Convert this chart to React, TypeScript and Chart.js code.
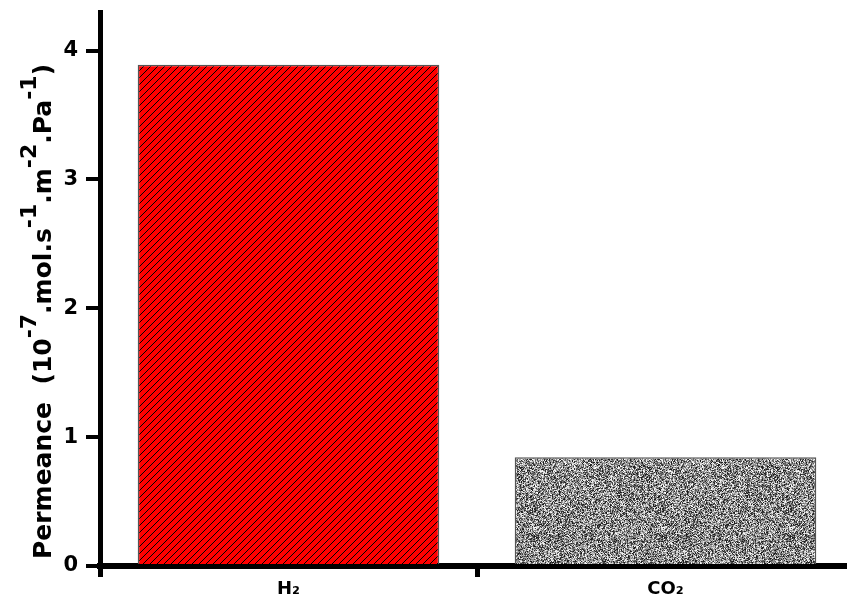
import React, { useEffect, useRef } from "react";
import { Chart, registerables } from "chart.js";

Chart.register(...registerables);

const categories = ["H\u2082", "CO\u2082"];
const permeance = [3.89, 0.845];
const yTicks = [0, 1, 2, 3, 4];
const yMax = 4.3;
const titleParts: { t: string; sup: boolean }[] = [
  { t: "Permeance  (10", sup: false },
  { t: "-7", sup: true },
  { t: ".mol.s", sup: false },
  { t: "-1", sup: true },
  { t: ".m", sup: false },
  { t: "-2", sup: true },
  { t: ".Pa", sup: false },
  { t: "-1", sup: true },
  { t: ")", sup: false },
];

function makeHatch(ctx: CanvasRenderingContext2D): CanvasPattern | string {
  const p = 7;
  const c = document.createElement("canvas");
  c.width = p;
  c.height = p;
  const g = c.getContext("2d")!;
  g.fillStyle = "#ff0000";
  g.fillRect(0, 0, p, p);
  g.strokeStyle = "#000000";
  g.lineWidth = 1.0;
  g.beginPath();
  g.moveTo(-1, p + 1);
  g.lineTo(p + 1, -1);
  g.moveTo(-2, 2);
  g.lineTo(2, -2);
  g.moveTo(p - 2, p + 2);
  g.lineTo(p + 2, p - 2);
  g.stroke();
  return ctx.createPattern(c, "repeat") || "#ff0000";
}

function makeNoise(ctx: CanvasRenderingContext2D): CanvasPattern | string {
  const n = 128;
  const c = document.createElement("canvas");
  c.width = n;
  c.height = n;
  const g = c.getContext("2d")!;
  const img = g.createImageData(n, n);
  let a = 987654321;
  const next = () => {
    a |= 0;
    a = (a + 0x6d2b79f5) | 0;
    let t = Math.imul(a ^ (a >>> 15), 1 | a);
    t = (t + Math.imul(t ^ (t >>> 7), 61 | t)) ^ t;
    return ((t ^ (t >>> 14)) >>> 0) / 4294967296;
  };
  for (let i = 0; i < n * n; i++) {
    const r = next();
    let v: number;
    if (r < 0.22) v = 20 + next() * 50;
    else if (r < 0.45) v = 200 + next() * 55;
    else v = 80 + next() * 115;
    img.data[i * 4] = v;
    img.data[i * 4 + 1] = v;
    img.data[i * 4 + 2] = v;
    img.data[i * 4 + 3] = 255;
  }
  g.putImageData(img, 0, 0);
  return ctx.createPattern(c, "repeat") || "#888888";
}

const titlePlugin = {
  id: "yTitleSup",
  afterDraw(chart: any) {
    const ctx: CanvasRenderingContext2D = chart.ctx;
    ctx.save();
    const mainFont = "bold 25px 'DejaVu Sans'";
    const supFont = "bold 22px 'DejaVu Sans'";
    ctx.translate(51, 559);
    ctx.rotate(-Math.PI / 2);
    ctx.fillStyle = "#000";
    ctx.textBaseline = "alphabetic";
    ctx.textAlign = "left";
    let x = 0;
    for (const p of titleParts) {
      ctx.font = p.sup ? supFont : mainFont;
      ctx.fillText(p.t, x, p.sup ? -15 : 0);
      x += ctx.measureText(p.t).width;
    }
    ctx.restore();
  },
};

export default function App() {
  const ref = useRef<HTMLCanvasElement | null>(null);
  useEffect(() => {
    const canvas = ref.current!;
    const ctx = canvas.getContext("2d")!;
    const hatch = makeHatch(ctx);
    const noise = makeNoise(ctx);
    const chart = new Chart(canvas, {
      type: "bar",
      data: {
        labels: categories,
        datasets: [
          {
            data: permeance,
            backgroundColor: [hatch as any, noise as any],
            borderColor: ["#555555", "#555555"],
            borderWidth: 1.5,
            barPercentage: 0.8,
            categoryPercentage: 1,
          },
        ],
      },
      options: {
        responsive: false,
        animation: false,
        layout: { padding: { left: 0, right: 8, top: 12, bottom: 0 } },
        plugins: { legend: { display: false }, tooltip: { enabled: false }, title: { display: false } },
        scales: {
          x: {
            type: "category",
            offset: true,
            border: { display: true, color: "#000", width: 6 },
            grid: {
              display: true,
              offset: true,
              drawOnChartArea: false,
              drawTicks: true,
              tickLength: 11,
              lineWidth: 5,
              color: "#000",
            },
            ticks: {
              color: "#000",
              font: { family: "'DejaVu Sans'", size: 18, weight: "bold" },
              padding: 2,
            },
            afterFit: (scale: any) => {
              scale.height = 40;
              scale.paddingLeft = 0;
              scale.paddingRight = 0;
            },
          },
          y: {
            type: "linear",
            min: 0,
            max: yMax,
            border: { display: true, color: "#000", width: 5 },
            grid: {
              display: true,
              drawOnChartArea: false,
              drawTicks: true,
              tickLength: 14,
              lineWidth: 4,
              color: "#000",
            },
            afterBuildTicks: (scale: any) => {
              scale.ticks = yTicks.map((v) => ({ value: v }));
            },
            ticks: {
              includeBounds: false,
              stepSize: 1,
              color: "#000",
              font: { family: "'DejaVu Sans'", size: 21, weight: "bold" },
              padding: 8,
            },
            afterFit: (scale: any) => {
              scale.width = 100;
              scale.paddingTop = 0;
              scale.paddingBottom = 0;
            },
          },
        },
      },
      plugins: [titlePlugin],
    });
    return () => chart.destroy();
  }, []);
  return (
    <div
      style={{
        position: "fixed",
        left: 0,
        top: 0,
        width: 847,
        height: 606,
        overflow: "hidden",
        background: "#fff",
      }}
    >
      <canvas ref={ref} width={862} height={606} style={{ display: "block" }} />
    </div>
  );
}
